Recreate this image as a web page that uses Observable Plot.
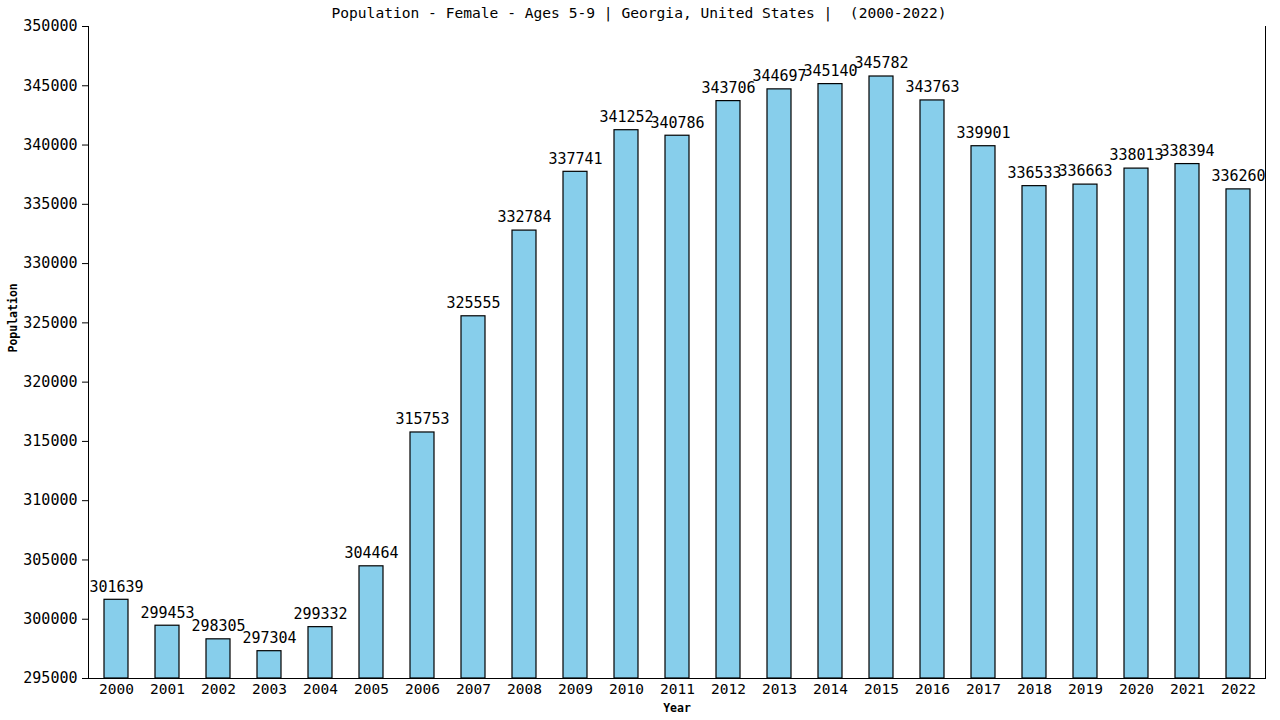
<!DOCTYPE html>
<html>
<head>
<meta charset="utf-8">
<script src="https://cdn.jsdelivr.net/npm/d3@7"></script>
<script src="https://cdn.jsdelivr.net/npm/@observablehq/plot@0.6"></script>
<style>
  body { margin: 0; background: #fff; }
  #wrap { position: relative; width: 1280px; height: 720px; }
  #title { position: absolute; top: 4px; left: 0; width: 1278px; text-align: center; white-space: pre;
           font: 14.6px "DejaVu Sans Mono", monospace; color: #000; }
</style>
</head>
<body>
<div id="wrap">
  <div id="title">Population - Female - Ages 5-9 | Georgia, United States |  (2000-2022)</div>
</div>
<script>
const years = ["2000","2001","2002","2003","2004","2005","2006","2007","2008","2009","2010","2011","2012","2013","2014","2015","2016","2017","2018","2019","2020","2021","2022"];
const values = [301639,299453,298305,297304,299332,304464,315753,325555,332784,337741,341252,340786,343706,344697,345140,345782,343763,339901,336533,336663,338013,338394,336260];
const yTicks = [295000,300000,305000,310000,315000,320000,325000,330000,335000,340000,345000,350000];

const data = years.map((y, i) => ({year: y, value: values[i]}));
const font = '"DejaVu Sans Mono", monospace';

const chart = Plot.plot({
  width: 1280,
  height: 720,
  marginLeft: 88,
  marginRight: 15,
  marginTop: 26,
  marginBottom: 42,
  style: {fontFamily: font, fontSize: "15px", color: "#000", background: "transparent"},
  x: {domain: years, paddingInner: 0.53, paddingOuter: 0.265, label: null},
  y: {domain: [295000, 350000], label: null},
  marks: [
    Plot.barY(data, {x: "year", y1: 295000, y2: "value", fill: "#87ceeb", stroke: "#000", strokeWidth: 1.2}),
    Plot.text(data, {x: "year", y: "value", text: d => String(d.value), dy: -13, fontSize: 15, fill: "#000"}),
    Plot.axisX({tickSize: 0, tickPadding: 5, fontSize: 14.5, label: null}),
    Plot.axisY({ticks: yTicks, tickFormat: d => String(d), tickSize: 6, tickPadding: 5, fontSize: 15, label: null}),
    Plot.frame({anchor: "left"}),
    Plot.frame({anchor: "right"}),
    Plot.frame({anchor: "bottom"}),
    Plot.text(["Year"], {frameAnchor: "bottom", dy: 33, fontSize: 11.5, fontWeight: "bold"}),
    Plot.text(["Population"], {frameAnchor: "left", dx: -75, rotate: -90, fontSize: 11.5, fontWeight: "bold"})
  ]
});
document.getElementById("wrap").appendChild(chart);
</script>
</body>
</html>
